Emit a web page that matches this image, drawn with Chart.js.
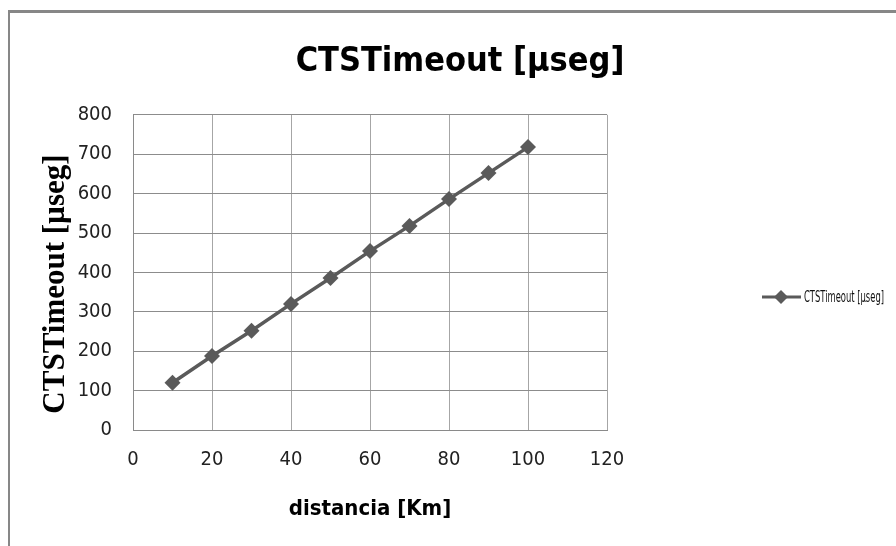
<!DOCTYPE html>
<html>
<head>
<meta charset="utf-8">
<script src="https://cdn.jsdelivr.net/npm/chart.js@4.4.1/dist/chart.umd.min.js"></script>
<style>
    html, body {
        margin: 0;
        padding: 0;
        background: #ffffff;
    }
    /* 外框: 只看得到上边和左边 */
    .frame {
        position: absolute;
        left: 8px;
        top: 10px;
        width: 900px;
        height: 550px;
        border-top: 3px solid #878787;
        border-left: 2px solid #878787;
    }
    .chart-container {
        position: absolute;
        left: 0;
        top: 0;
        width: 896px;
        height: 546px;
    }
</style>
</head>
<body>
<div class="frame"></div>
<div class="chart-container">
    <canvas id="ctsChart"></canvas>
</div>
<script>
    // data
    const distances = [10, 20, 30, 40, 50, 60, 70, 80, 90, 100];
    const ctsTimeout = [120, 188, 252, 320, 386, 454, 518, 586, 652, 718];
    const seriesName = 'CTSTimeout [µseg]';
    const chartTitle = 'CTSTimeout [µseg]';
    const xTitle = 'distancia [Km]';
    const yTitle = 'CTSTimeout [µseg]   ';

    const narrow = "'Liberation Sans Narrow', 'DejaVu Sans Condensed', 'Open Sans', sans-serif";
    const lineColor = '#5a5a5a';

    // legend drawn at the right, like the Excel one
    const sideLegend = {
        id: 'sideLegend',
        afterDraw(chart) {
            const ctx = chart.ctx;
            const y = 297;
            ctx.save();
            ctx.strokeStyle = lineColor;
            ctx.lineWidth = 3;
            ctx.beginPath();
            ctx.moveTo(762, y);
            ctx.lineTo(801, y);
            ctx.stroke();
            ctx.fillStyle = lineColor;
            ctx.beginPath();
            ctx.moveTo(781, y - 7);
            ctx.lineTo(788, y);
            ctx.lineTo(781, y + 7);
            ctx.lineTo(774, y);
            ctx.closePath();
            ctx.fill();
            ctx.fillStyle = '#111';
            ctx.font = '16px ' + narrow;
            ctx.textBaseline = 'middle';
            // squeeze the text to the width it has in the picture
            const w = ctx.measureText(seriesName).width;
            const sx = Math.min(1, 80 / w);
            ctx.translate(804, y + 1);
            ctx.scale(sx, 1);
            ctx.fillText(seriesName, 0, 0);
            ctx.restore();
        }
    };

    const ctx = document.getElementById('ctsChart').getContext('2d');
    new Chart(ctx, {
        type: 'line',
        data: {
            datasets: [{
                label: seriesName,
                data: distances.map((d, i) => ({ x: d, y: ctsTimeout[i] })),
                borderColor: lineColor,
                backgroundColor: lineColor,
                borderWidth: 3.5,
                pointStyle: 'rectRot',
                pointRadius: 8,
                pointHoverRadius: 8,
                pointBorderWidth: 0,
                tension: 0
            }]
        },
        options: {
            responsive: true,
            maintainAspectRatio: false,
            animation: false,
            layout: {
                padding: { left: 24, right: 0, top: 0, bottom: 0 }
            },
            plugins: {
                legend: { display: false },
                tooltip: { enabled: false },
                title: {
                    display: true,
                    text: chartTitle,
                    color: '#000',
                    font: { family: narrow, size: 34, weight: 'bold', lineHeight: 1.2 },
                    padding: { top: 42, bottom: 32 }
                }
            },
            scales: {
                x: {
                    type: 'linear',
                    min: 0,
                    max: 120,
                    ticks: {
                        stepSize: 20,
                        color: '#222',
                        padding: 18,
                        maxRotation: 0,
                        font: { family: narrow, size: 20 }
                    },
                    grid: { color: '#a6a6a6', lineWidth: 1, drawTicks: false },
                    border: { color: '#8a8a8a', width: 1 },
                    title: {
                        display: true,
                        text: xTitle,
                        color: '#000',
                        font: { family: narrow, size: 22, weight: 'bold', lineHeight: 1.2 },
                        padding: { top: 24, bottom: 24 }
                    },
                    afterFit(scale) {
                        scale.height = 116;
                    }
                },
                y: {
                    min: 0,
                    max: 800,
                    ticks: {
                        stepSize: 100,
                        color: '#222',
                        padding: 21,
                        font: { family: narrow, size: 20 }
                    },
                    grid: { color: '#8c8c8c', lineWidth: 1, drawTicks: false },
                    border: { color: '#8a8a8a', width: 1 },
                    title: {
                        display: true,
                        text: yTitle,
                        color: '#000',
                        font: { family: "'Liberation Serif', 'DejaVu Serif', serif", size: 31, weight: 'bold', lineHeight: 1.2 },
                        padding: { top: 13, bottom: 0 }
                    },
                    afterFit(scale) {
                        scale.width = 109;
                    }
                },
                // empty axis on the right, keeps the room where the legend sits
                yRight: {
                    type: 'linear',
                    position: 'right',
                    display: true,
                    grid: { display: false },
                    ticks: { display: false },
                    border: { display: false },
                    afterFit(scale) {
                        scale.width = 289;
                    }
                }
            }
        },
        plugins: [sideLegend]
    });
</script>
</body>
</html>
